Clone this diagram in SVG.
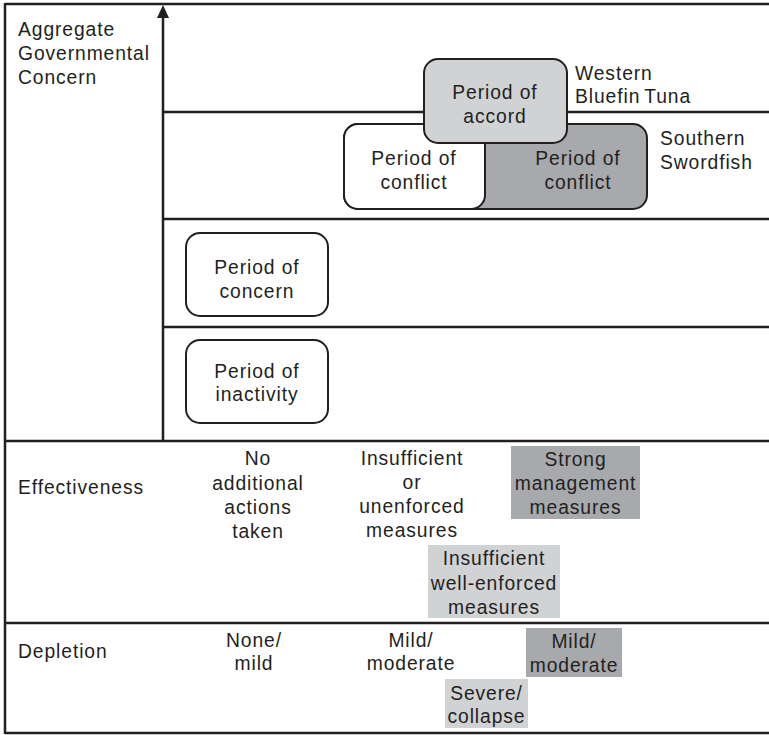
<svg xmlns="http://www.w3.org/2000/svg" width="769" height="735" viewBox="0 0 769 735">
  <style>
    text { font-family: "Liberation Sans", Arial, Helvetica, sans-serif; font-size: 19.3px; letter-spacing: 0.9px; fill: #231f20; }
    .c { text-anchor: middle; }
    .rule { stroke: #231f20; stroke-width: 2.5; fill: none; }
    .box { stroke: #231f20; stroke-width: 2; }
    .white { fill: #ffffff; }
    .light { fill: #d1d2d4; }
    .dark { fill: #a7a9ac; }
  </style>
  <rect width="769" height="735" fill="#ffffff"/>

  <!-- frame and row dividers -->
  <g id="frame">
    <line class="rule" x1="5" y1="4" x2="769" y2="4"/>
    <line class="rule" x1="5" y1="3" x2="5" y2="734"/>
    <line class="rule" x1="163" y1="112" x2="769" y2="112"/>
    <line class="rule" x1="163" y1="219" x2="769" y2="219"/>
    <line class="rule" x1="163" y1="327" x2="769" y2="327"/>
    <line class="rule" x1="5" y1="441" x2="769" y2="441"/>
    <line class="rule" x1="5" y1="623" x2="769" y2="623"/>
    <line class="rule" x1="5" y1="733" x2="769" y2="733"/>
  </g>

  <!-- vertical concern axis with its arrowhead -->
  <g id="connectors">
    <line class="rule" x1="163" y1="441" x2="163" y2="16"/>
    <polygon points="163,5 157,18 169,18" fill="#231f20"/>
  </g>

  <!-- row labels -->
  <g id="label-concern">
    <text x="18" y="36">Aggregate</text>
    <text x="18" y="60">Governmental</text>
    <text x="18" y="84">Concern</text>
  </g>
  <g id="label-effectiveness">
    <text x="18" y="494">Effectiveness</text>
  </g>
  <g id="label-depletion">
    <text x="18" y="658">Depletion</text>
  </g>

  <!-- species labels -->
  <g id="label-bluefin">
    <text x="575" y="80">Western</text>
    <text x="575" y="103">Bluefin<tspan dx="-2"> Tuna</tspan></text>
  </g>
  <g id="label-swordfish">
    <text x="660" y="145">Southern</text>
    <text x="660" y="169">Swordfish</text>
  </g>

  <!-- period nodes -->
  <g id="node-conflict-swordfish">
    <rect class="box dark" x="344" y="124" width="303" height="85" rx="14"/>
    <text class="c" x="578" y="165">Period of</text>
    <text class="c" x="578" y="189">conflict</text>
  </g>
  <g id="node-conflict-bluefin">
    <rect class="box white" x="344" y="124" width="141" height="85" rx="14"/>
    <text class="c" x="414" y="165">Period of</text>
    <text class="c" x="414" y="189">conflict</text>
  </g>
  <g id="node-accord">
    <rect class="box light" x="424" y="59" width="143" height="84" rx="14"/>
    <text class="c" x="495" y="99">Period of</text>
    <text class="c" x="495" y="123">accord</text>
  </g>
  <g id="node-concern">
    <rect class="box white" x="186" y="233" width="142" height="83" rx="14"/>
    <text class="c" x="257" y="274">Period of</text>
    <text class="c" x="257" y="298">concern</text>
  </g>
  <g id="node-inactivity">
    <rect class="box white" x="186" y="340" width="142" height="83" rx="14"/>
    <text class="c" x="257" y="378">Period of</text>
    <text class="c" x="257" y="401">inactivity</text>
  </g>

  <!-- effectiveness row -->
  <g id="eff-none">
    <text class="c" x="258" y="465">No</text>
    <text class="c" x="258" y="490">additional</text>
    <text class="c" x="258" y="514">actions</text>
    <text class="c" x="258" y="538">taken</text>
  </g>
  <g id="eff-insufficient">
    <text class="c" x="412" y="465">Insufficient</text>
    <text class="c" x="412" y="489">or</text>
    <text class="c" x="412" y="513">unenforced</text>
    <text class="c" x="412" y="537">measures</text>
  </g>
  <g id="eff-strong">
    <rect class="dark" x="511" y="446" width="129" height="73"/>
    <text class="c" x="575.5" y="466">Strong</text>
    <text class="c" x="575.5" y="490">management</text>
    <text class="c" x="575.5" y="514">measures</text>
  </g>
  <g id="eff-well-enforced">
    <rect class="light" x="428" y="545" width="132" height="73"/>
    <text class="c" x="494" y="565">Insufficient</text>
    <text class="c" x="494" y="590">well-enforced</text>
    <text class="c" x="494" y="614">measures</text>
  </g>

  <!-- depletion row -->
  <g id="dep-none">
    <text class="c" x="254" y="647">None/</text>
    <text class="c" x="254" y="670">mild</text>
  </g>
  <g id="dep-mild">
    <text class="c" x="411" y="647">Mild/</text>
    <text class="c" x="411" y="670">moderate</text>
  </g>
  <g id="dep-mild-strong">
    <rect class="dark" x="526" y="628" width="96" height="49"/>
    <text class="c" x="574" y="648">Mild/</text>
    <text class="c" x="574" y="672">moderate</text>
  </g>
  <g id="dep-severe">
    <rect class="light" x="445" y="679" width="83" height="49"/>
    <text class="c" x="486.5" y="700">Severe/</text>
    <text class="c" x="486.5" y="723">collapse</text>
  </g>
</svg>
